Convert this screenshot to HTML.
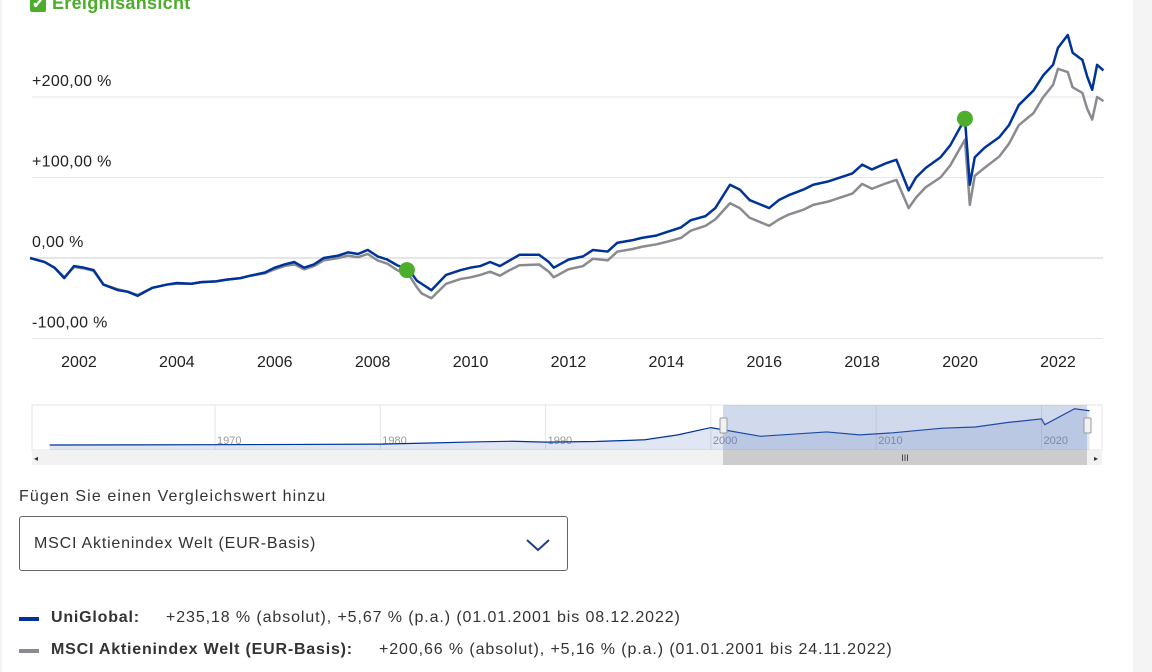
<!DOCTYPE html>
<html><head><meta charset="utf-8">
<style>
body{margin:0;width:1152px;height:672px;overflow:hidden;background:#fff;font-family:"Liberation Sans",sans-serif;position:relative}
.abs{position:absolute}
.lbl{position:absolute;font-size:15px;color:#222}
</style></head>
<body>
<div class="abs" style="left:1133px;top:0;width:19px;height:672px;background:#f4f4f4"></div>
<div class="abs" style="left:0;top:0;width:2px;height:672px;background:#f4f4f4"></div>
<div class="abs" style="left:30px;top:-7px;font-size:18px;font-weight:bold;color:#4cae2c;display:flex;align-items:center;gap:6px;letter-spacing:0.3px">
<span style="display:inline-block;width:16px;height:16px;background:#4cae2c;border-radius:2px;color:#fff;font-size:13px;line-height:16px;text-align:center">✔</span>Ereignisansicht</div>
<svg id="chart" class="abs" style="left:0;top:0" width="1133" height="470"></svg>
<div class="lbl" style="left:19px;top:488px;font-size:16px;color:#333;letter-spacing:1.1px">Fügen Sie einen Vergleichswert hinzu</div>
<div class="abs" style="left:19px;top:516px;width:549px;height:55px;border:1px solid #666;border-radius:3px;box-sizing:border-box">
<span style="position:absolute;left:14px;top:18px;font-size:16px;color:#333;letter-spacing:0.8px">MSCI Aktienindex Welt (EUR-Basis)</span>
<svg style="position:absolute;left:505px;top:20px" width="26" height="16"><polyline points="2,3 13,13 24,3" fill="none" stroke="#1f3f8a" stroke-width="2"/></svg>
</div>
<div class="abs" style="left:19px;top:609px;font-size:16px;color:#333;white-space:nowrap;width:1000px;height:22px">
<span style="position:absolute;left:0;top:8px;width:20px;height:4px;background:#003399"></span><b style="position:absolute;left:32px;letter-spacing:0.8px">UniGlobal:</b><span style="position:absolute;left:147px;letter-spacing:0.9px">+235,18 % (absolut), +5,67 % (p.a.) (01.01.2001 bis 08.12.2022)</span></div>
<div class="abs" style="left:19px;top:641px;font-size:16px;color:#333;white-space:nowrap;width:1000px;height:22px">
<span style="position:absolute;left:0;top:8px;width:20px;height:4px;background:#888b90"></span><b style="position:absolute;left:32px;letter-spacing:0.8px">MSCI Aktienindex Welt (EUR-Basis):</b><span style="position:absolute;left:360px;letter-spacing:0.9px">+200,66 % (absolut), +5,16 % (p.a.) (01.01.2001 bis 24.11.2022)</span></div>
<script>
const dates=[2001.0,2001.3,2001.5,2001.7,2001.9,2002.1,2002.3,2002.5,2002.8,2003.0,2003.2,2003.5,2003.8,2004.0,2004.3,2004.5,2004.8,2005.0,2005.3,2005.5,2005.8,2006.0,2006.2,2006.4,2006.6,2006.8,2007.0,2007.3,2007.5,2007.7,2007.9,2008.1,2008.3,2008.5,2008.75,2008.9,2009.0,2009.2,2009.5,2009.8,2010.0,2010.2,2010.4,2010.6,2010.8,2011.0,2011.4,2011.6,2011.7,2012.0,2012.3,2012.5,2012.8,2013.0,2013.3,2013.5,2013.8,2014.0,2014.3,2014.5,2014.8,2015.0,2015.3,2015.5,2015.7,2016.1,2016.3,2016.5,2016.8,2017.0,2017.3,2017.5,2017.8,2018.0,2018.2,2018.5,2018.7,2018.95,2019.1,2019.3,2019.6,2019.8,2020.1,2020.2,2020.3,2020.5,2020.8,2021.0,2021.2,2021.5,2021.7,2021.9,2022.0,2022.2,2022.3,2022.5,2022.6,2022.7,2022.8,2022.93];
const uni=[0,-5,-12,-25,-10,-12,-15,-33,-40,-42,-47,-37,-33,-31,-32,-30,-29,-27,-25,-22,-18,-12,-8,-5,-12,-8,0,3,7,5,10,2,-2,-9,-15,-28,-32,-40,-21,-15,-12,-10,-5,-10,-3,4,4,-5,-12,-2,2,10,8,19,22,25,28,32,38,47,52,62,91,85,72,62,72,78,85,91,95,99,105,116,110,118,122,84,100,112,125,140,173,91,125,137,150,165,190,208,227,240,261,277,255,246,225,209,240,233,215,243];
const msci=[0,-5,-12,-24,-11,-13,-16,-33,-39,-42,-46,-37,-33,-32,-32,-30,-29,-27,-25,-22,-19,-14,-10,-8,-14,-10,-3,0,3,1,5,-3,-7,-15,-22,-36,-44,-50,-32,-26,-24,-21,-17,-22,-15,-9,-8,-17,-24,-14,-10,-1,-3,8,11,14,17,20,25,34,40,48,68,62,50,40,48,54,60,66,70,74,80,92,86,93,97,62,75,88,100,115,147,66,102,112,126,142,165,180,200,215,235,231,212,205,185,172,200,195,178,201];
const navYears=[1960,1970,1975,1980,1983,1986,1988,1990,1993,1996,1998,2000,2001,2003,2007,2009,2011,2014,2016,2018,2020,2020.2,2022,2022.9];
const navVals=[0,1,2,3,7,11,13,10,12,18,35,60,50,30,45,35,42,58,62,78,90,70,125,118];
const yTicks=[200,100,0,-100];
const yLabels=["+200,00 %","+100,00 %","0,00 %","-100,00 %"];
const xTicks=[2002,2004,2006,2008,2010,2012,2014,2016,2018,2020,2022];
const navTicks=[1970,1980,1990,2000,2010,2020];
const events=[[2008.7,-15],[2020.1,173]];
const NS="http://www.w3.org/2000/svg",svg=document.getElementById('chart');
const X=d=>30+(d-2001)*48.95, Y=v=>258-v*0.805;
const NX=d=>215+(d-1970)*16.53, NY=v=>445-v*0.29;
function mk(t,a,p){const e=document.createElementNS(NS,t);for(const k in a)e.setAttribute(k,a[k]);(p||svg).appendChild(e);return e;}
yTicks.forEach((v,i)=>{
 const g=mk('line',{x1:32,x2:1103,y1:Y(v),y2:Y(v),stroke:'#e6e6e6','stroke-width':1});
 
 
 const t=mk('text',{x:32,y:Y(v)-11,'font-size':16,fill:'#222','font-family':'Liberation Sans','letter-spacing':0.3});
 t.textContent=yLabels[i];
 
 
});
const z=mk('line',{x1:32,x2:1103,y1:Y(0),y2:Y(0),stroke:'#ccc'});


xTicks.forEach(d=>{
 const t=mk('text',{x:X(d),y:367,'font-size':16,fill:'#222','text-anchor':'middle','font-family':'Liberation Sans'});
 t.textContent=d;
 
 
});
function line(vals,col,name){
 const p=mk('polyline',{points:dates.map((d,i)=>X(d)+','+Y(vals[i])).join(' '),fill:'none',stroke:col,'stroke-width':2.5,'stroke-linejoin':'round'});
 
 
}
line(msci,'#888b90','msci-line');
line(uni,'#003399','uniglobal-line');
events.forEach(e=>{
 const c=mk('circle',{cx:X(e[0]),cy:Y(e[1]),r:8,fill:'#4cae2c'});
 
 
});
const nb=mk('rect',{x:32,y:405,width:1070,height:45,fill:'#fff',stroke:'#e6e6e6'});


navTicks.forEach(d=>{
 const l=mk('line',{x1:NX(d),x2:NX(d),y1:405,y2:450,stroke:'#e6e6e6'});
 
 
 const t=mk('text',{x:NX(d)+2,y:444,'font-size':11,fill:'#999','font-family':'Liberation Sans'});
 t.textContent=d;
 
 
});
const pts=navYears.map((d,i)=>NX(d)+','+NY(navVals[i])).join(' ');
const na=mk('polygon',{points:NX(navYears[0])+',450 '+pts+' '+NX(navYears[navYears.length-1])+',450',fill:'rgba(0,51,153,0.12)'});


const nl=mk('polyline',{points:pts,fill:'none',stroke:'#003399','stroke-width':1.2});


const sel=mk('rect',{x:723,y:405,width:364,height:45,fill:'rgba(102,133,194,0.3)'});


[723,1087].forEach(x=>{
 const h=mk('rect',{x:x-3,y:418,width:7,height:15,fill:'#f2f2f2',stroke:'#999',rx:1});
 
 
});
const sb=mk('rect',{x:32,y:450,width:1070,height:15,fill:'#f2f2f2'});


const th=mk('rect',{x:723,y:450,width:364,height:15,fill:'#cccccc'});


const g1=mk('text',{x:905,y:461,'font-size':9,fill:'#333','text-anchor':'middle'});g1.textContent='III';


const la=mk('text',{x:34,y:461,'font-size':8,fill:'#333'});la.textContent='◂';


const ra=mk('text',{x:1094,y:461,'font-size':8,fill:'#333'});ra.textContent='▸';


</script>
</body></html>
